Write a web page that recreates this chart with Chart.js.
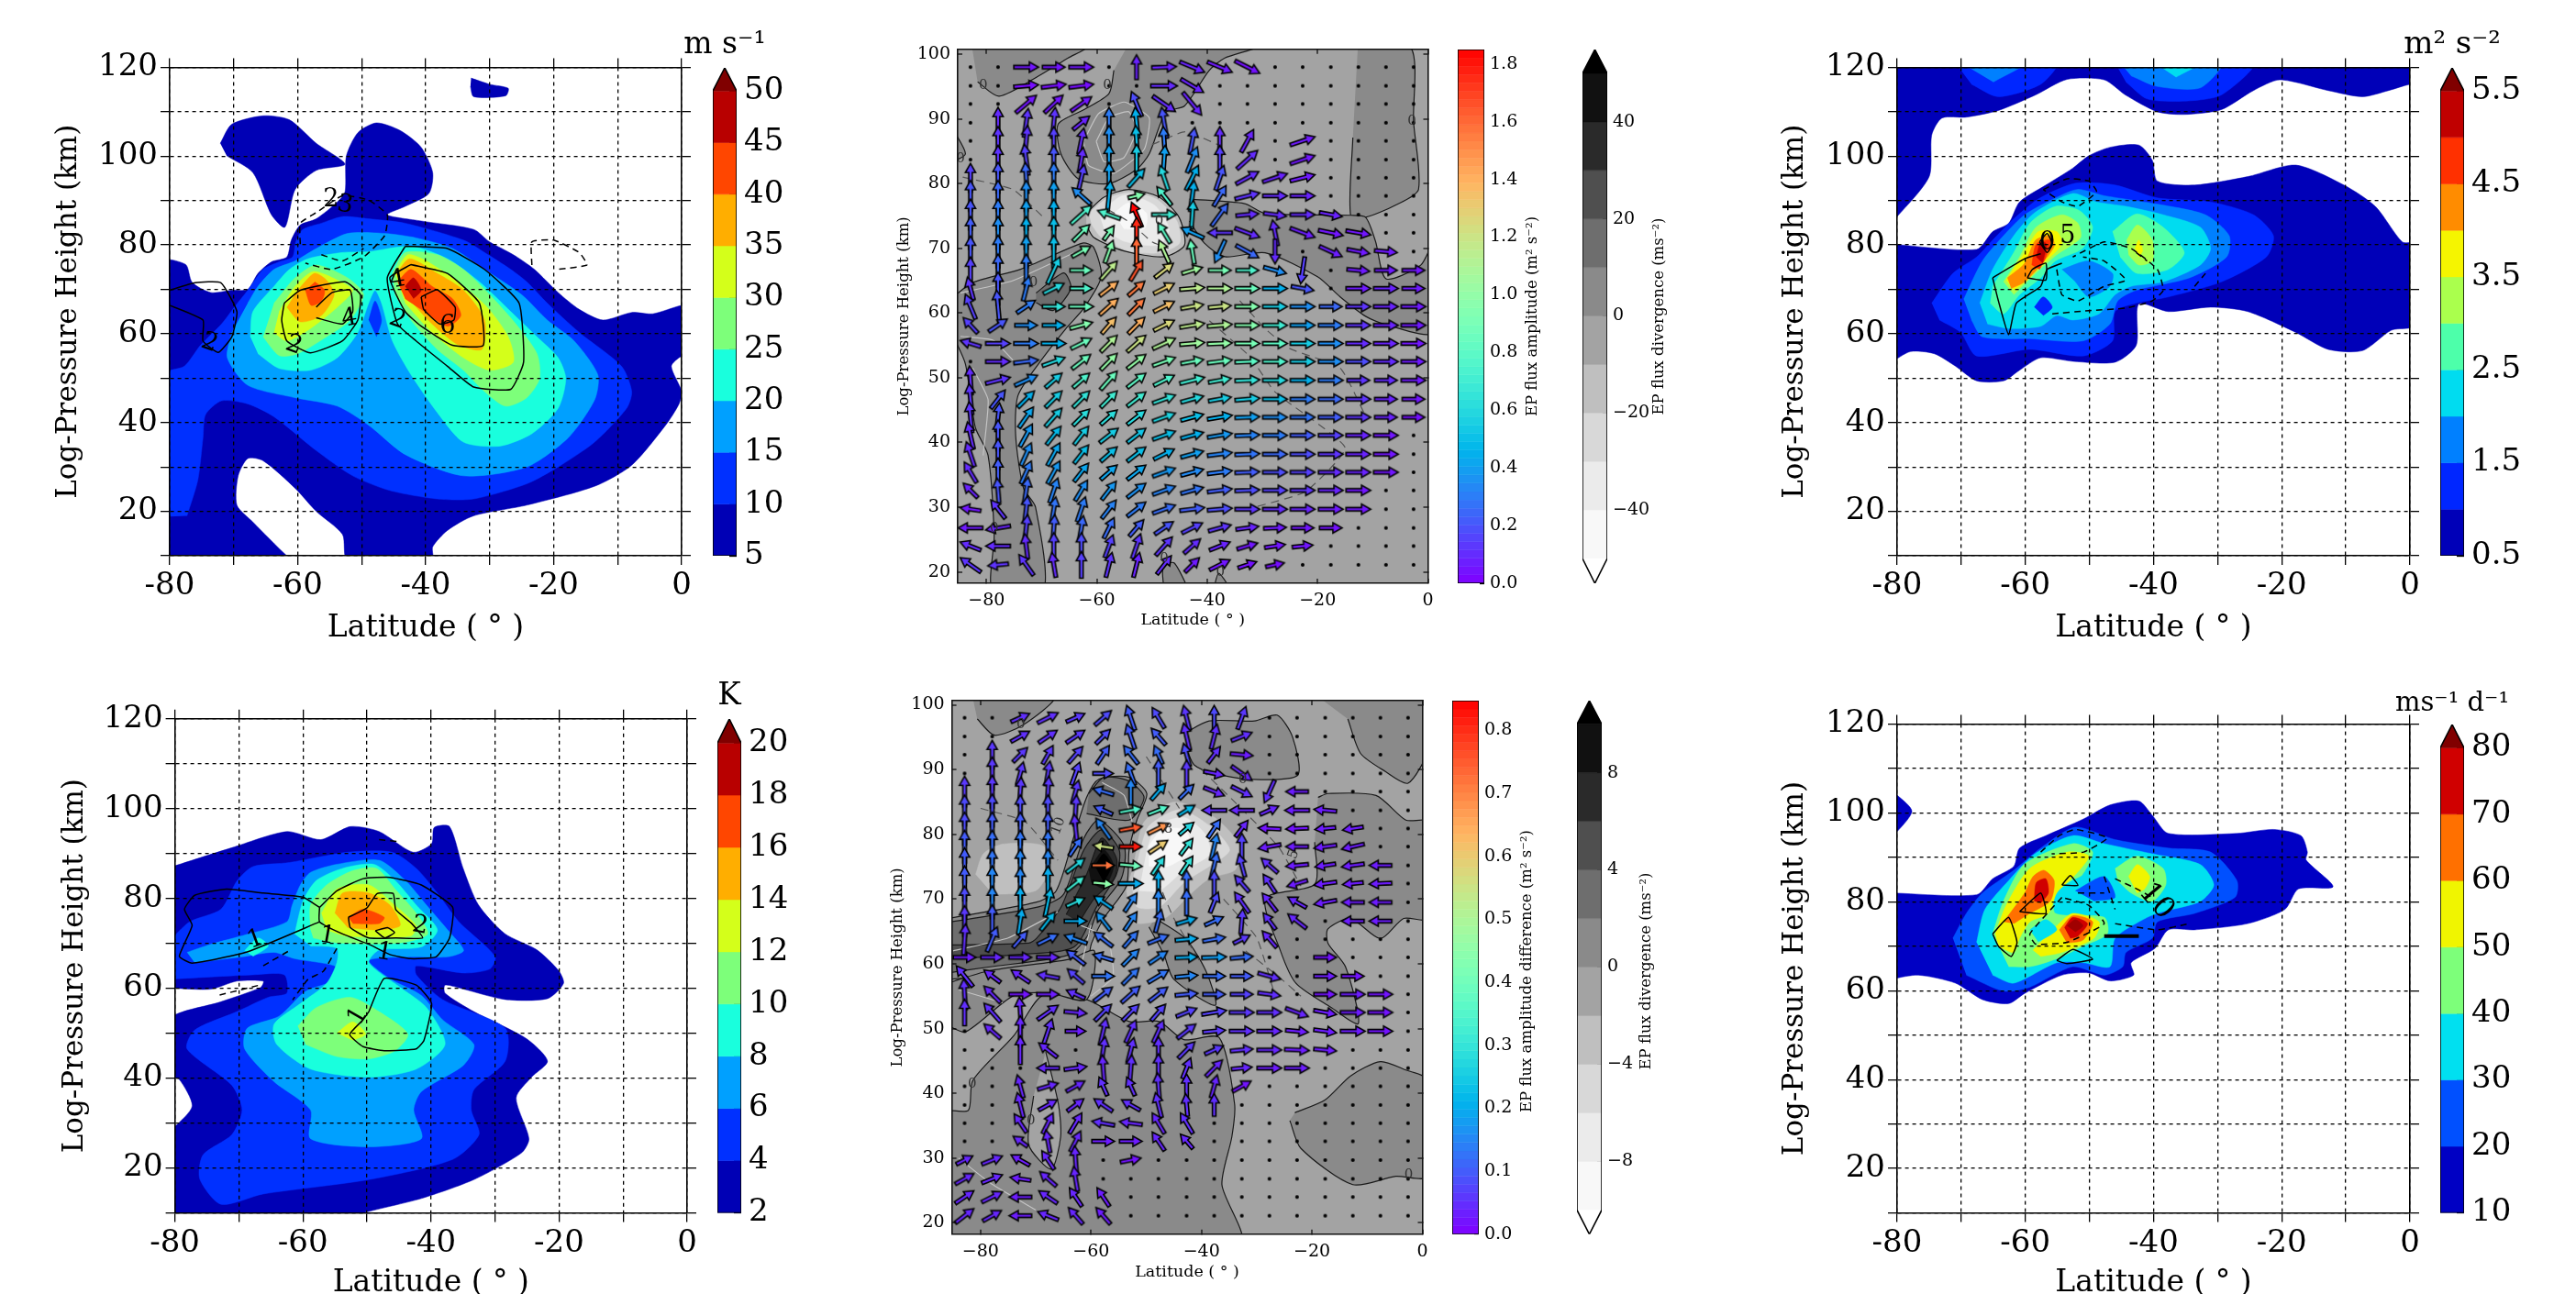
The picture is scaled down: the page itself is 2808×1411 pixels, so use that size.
<!DOCTYPE html>
<html><head><meta charset="utf-8">
<style>html,body{margin:0;padding:0;background:#fff;width:2808px;height:1411px;overflow:hidden}canvas{position:absolute;filter:blur(0.6px)}</style>
<script src="https://cdn.jsdelivr.net/npm/chart.js@4/dist/chart.umd.min.js"></script>
</head><body>
<script>
// ---------- axis data ----------
const bigXTicks=[-80,-70,-60,-50,-40,-30,-20,-10,0];
const bigXLabels=[-80,-60,-40,-20,0];
const bigYTicks=[10,20,30,40,50,60,70,80,90,100,110,120];
const bigYLabels=[20,40,60,80,100,120];
const midXTicks=[-80,-60,-40,-20,0];
const midYTicks=[20,30,40,50,60,70,80,90,100];
const gridLat=[-82.9,-77.9,-72.8,-67.8,-62.8,-57.8,-52.8,-47.8,-42.7,-37.7,-32.7,-27.7,-22.7,-17.6,-12.6,-7.6,-2.6];
const gridKm=[98,95.1,92.3,89.4,86.6,83.7,80.9,78.1,75.2,72.4,69.5,66.6,63.8,61,58.1,55.3,52.5,49.6,46.7,43.9,41.1,38.2,35.4,32.6,29.7,26.8,24,21.1];
// ---------- colour levels ----------
const levels1=[5,10,15,20,25,30,35,40,45,50];
const ticks1=[5,10,15,20,25,30,35,40,45,50];
const jet9=['#0000b5','#0030ff','#00a0ff','#19ffdd','#7dff7a','#d4ff1a','#ffae00','#ff4600','#b80000'];
const levels4=[2,4,6,8,10,12,14,16,18,20];
const ticks4=[2,4,6,8,10,12,14,16,18,20];
const levels3=[0.5,1,1.5,2,2.5,3,3.5,4,4.5,5,5.5];
const ticks3=[0.5,1.5,2.5,3.5,4.5,5.5];
const jet10=['#0000b8','#0026ff','#0080ff','#00dcf0','#4dffaa','#aaff4d','#f5f500','#ff8c00','#ff3000','#c00000'];
const levels6=[10,20,30,40,50,60,70,80];
const ticks6=[10,20,30,40,50,60,70,80];
const jet7=['#0000c4','#0050ff','#00e0f0','#7dff7a','#f0f500','#ff7000','#d00000'];
const overRed='#800000';
const levelsDiv2=[-50,-40,-30,-20,-10,0,10,20,30,40,50];
const ticksDiv2=[-40,-20,0,20,40];
const levelsDiv5=[-10,-8,-6,-4,-2,0,2,4,6,8,10];
const ticksDiv5=[-8,-4,0,4,8];
const greys=['#f8f8f8','#ebebeb','#d8d8d8','#bfbfbf','#a3a3a3','#8a8a8a','#6e6e6e','#4f4f4f','#2a2a2a','#111111'];
const ampTicks2=[0,0.2,0.4,0.6,0.8,1.0,1.2,1.4,1.6,1.8];
const ampTicks5=[0,0.1,0.2,0.3,0.4,0.5,0.6,0.7,0.8];

// ---------- panel 1: zonal wind ----------
const p1L5=[[[-81,9],[-81,76.2],[-77.5,75.6],[-76.5,71.6],[-73.6,69.3],[-70.3,69.8],[-67.8,70],[-66.2,73.6],[-64.1,76.2],[-61.7,77.3],[-61,81.1],[-59.6,84.5],[-57.1,85.9],[-53.8,89.7],[-52.6,92],[-52.4,100],[-50.6,105.3],[-47.7,107.5],[-44,105.8],[-40.7,102],[-38.9,96.3],[-39.5,91.6],[-43.2,88.7],[-46,86.8],[-40.7,85.4],[-32.5,83.5],[-30,80.7],[-26.3,77.8],[-23,74.5],[-19.3,69.3],[-16,65.5],[-12.3,63.1],[-7.8,64.8],[-4.5,64.5],[0,66.4],[1,66],[1,55],[0,55],[-1.6,52.7],[0,47],[-0.4,44.2],[-2.5,39.4],[-7.8,30.4],[-13.5,25.7],[-24.2,21.4],[-32.5,19],[-36.6,15.7],[-38.9,12],[-39,9],[-52.2,9],[-53,14.8],[-57.1,20],[-60.4,25.2],[-65.4,31.4],[-67.8,31.9],[-69.3,28],[-69.5,21.4],[-67,17.6],[-61.7,10],[-60.5,9]],
[[-72.1,102.9],[-70.3,107.2],[-65.4,109.1],[-61.3,108.2],[-57.1,102.9],[-52.6,98.2],[-57.1,96.8],[-60.4,92.5],[-62,84],[-64.1,86.8],[-67,96.3],[-71.1,100.1]],
[[-32.9,117.6],[-30,116.2],[-27.1,115.3],[-27.5,113.6],[-32.5,113.4],[-33,115.7]]];
const p1L10=[[[-81,18.8],[-81,50.8],[-77.7,52.7],[-75.2,57.4],[-71.9,62.2],[-69.9,66],[-67.8,69.8],[-65.4,74.5],[-62.9,76.2],[-60.8,77.3],[-60.3,80.7],[-59.2,83.5],[-56.3,84.9],[-53,86.4],[-48.9,85.9],[-43.2,84.9],[-34.1,81.1],[-30.8,78.3],[-26.7,74.5],[-24.2,71.7],[-21,66.9],[-16,60.3],[-9.4,52.7],[-7.8,47],[-8.6,43.2],[-13.6,35.6],[-19.3,30],[-24.2,26.2],[-32.5,22.8],[-38.2,22.8],[-45.6,24.7],[-51.4,28],[-57.1,33.7],[-63.7,41.3],[-67.8,44.2],[-71.9,44.9],[-74.4,41.8],[-74.8,36.6],[-75.6,27.1],[-77.3,19]]];
const p1L15=[[[-67.8,66.9],[-66.2,70.7],[-63.7,74.5],[-60.4,76.4],[-57.1,79.2],[-52.2,82.6],[-46.4,82.6],[-41.5,81.6],[-35.8,79.2],[-30.8,74.5],[-25,68.8],[-21,63.1],[-16.8,58.4],[-13.1,50.8],[-13.6,45.1],[-17.7,36.6],[-24.2,30],[-34.1,28],[-43.2,32.8],[-48.9,39.4],[-53.8,43.7],[-60.4,45.6],[-67.8,48.4],[-71,54.6],[-70.3,60.3]]];
const p1L20=[[[-67.4,59.3],[-67,65],[-63.7,70.7],[-61.3,74.5],[-58.4,76.9],[-53,78.3],[-48.9,78.5],[-42.3,79.7],[-36.6,76.9],[-31.6,71.7],[-26.7,65],[-22.6,59.3],[-19.3,54.6],[-18.1,49.9],[-19.3,43.2],[-23.4,37.5],[-28.4,34.7],[-34.1,35.6],[-38.2,42.3],[-42.3,50.8],[-45.2,58.4],[-46.9,66.9],[-47.9,69.8],[-48.9,66.9],[-50.6,60.3],[-53.8,54.6],[-58,51.8],[-62.9,52.2],[-66.2,55.5]]];
const p1L25=[[[-65.4,59.3],[-62.9,55.1],[-60,55.5],[-55.5,59.3],[-51.8,63.1],[-49.7,68.8],[-52.2,72.6],[-57.1,75.5],[-60.4,72.6],[-63.7,66.9]],
[[-45.2,73.6],[-43.2,78.3],[-38.2,77.8],[-34.1,74.5],[-30,68.8],[-25.9,62.2],[-22.6,55.5],[-22.2,49.9],[-24.2,45.6],[-27.5,43.7],[-30.8,47],[-34.1,51.8],[-38.2,56.5],[-42.3,63.1],[-44.8,68.8]]];
const p1L30=[[[-63.7,60.3],[-61.7,58.4],[-58,61.2],[-53.8,66],[-51.4,69.8],[-53.8,72.1],[-57.6,74],[-60.4,70.7],[-62.9,65]],
[[-44.8,73.6],[-42.8,77.8],[-39.9,76.4],[-35,71.7],[-30.4,66],[-27.1,59.3],[-26.3,53.6],[-30,51.8],[-34.1,54.6],[-39,60.3],[-43.2,66.9]]];
const p1L35=[[[-61.7,66],[-59.6,62.7],[-56.3,64.1],[-54.3,68.8],[-55.5,72.1],[-57.4,73.6],[-60,69.8]],
[[-44.6,73.6],[-42.5,76.9],[-38.2,73.6],[-34.1,69.8],[-30.8,63.1],[-31.2,56.5],[-34.9,57.5],[-39,62.2],[-43.2,68.8]]];
const p1L40=[[[-58.8,69.8],[-57.9,66.4],[-56.3,67.3],[-55.8,69.8],[-57.3,71.7]],
[[-44.4,71.7],[-42.3,74.5],[-39,70.7],[-35.8,67.9],[-34.5,64.1],[-36.6,61.7],[-40.7,65.5],[-43.2,67.9]]];
const p1L45=[[[-43.2,70.7],[-41.9,72.6],[-40.7,69.8],[-41.9,67.9]]];
const p1Spot=[[-48.9,63.1],[-47.9,67.4],[-46.9,63.1],[-47.7,59.3]];
const p1Solid=[
[[-43.2,79.7],[-36.6,79.2],[-30.8,74.5],[-25.4,66.9],[-24.7,53.6],[-26.7,47.5],[-32.5,48],[-36.6,52.7],[-41.5,58.4],[-44.4,62.2],[-46,72.6],[-43.2,79.7]],
[[-42.3,75.6],[-36.6,73.6],[-31.6,66.9],[-31,57.4],[-35.8,57.4],[-40.7,61.7],[-43.2,65],[-45.6,72.6],[-42.3,75.6]],
[[-40.7,68.3],[-38.2,69.9],[-35.4,66],[-35.6,63.1],[-37.8,62.2],[-40.3,65.5],[-40.7,68.3]],
[[-62.1,66.9],[-59.6,69.8],[-52.6,71.7],[-50.2,68.8],[-50.6,63.1],[-53,58.4],[-58,55.7],[-61.7,58.4],[-62.5,63.1],[-62.1,66.9]],
[[-57.1,66],[-54.6,69.3],[-51.8,69.8],[-51.4,65],[-53,62.2],[-57.1,63.6]],
[[-80,69.8],[-76,71.5],[-72,71.5],[-69.5,65],[-70.3,59.3],[-72.4,55.8],[-74.8,58.4],[-74.8,63.1],[-80,66.4]]];
const p1Dashed=[
[[-59.6,80.2],[-59.6,84.9],[-57.1,87.3],[-53,91.1],[-48.9,90.1],[-46,86.8],[-46.4,82.1],[-49.7,77.3],[-54.7,74.5],[-58.8,75.9]],
[[-56.3,77.8],[-53,76.4],[-49.7,79.2]],
[[-23.4,75.5],[-23.4,80.7],[-20,81.1],[-16,78.3],[-14.8,75.5],[-19.3,74.5]]];
const p1Text=[[-73.8,57.9,'2',20],[-60.6,57.4,'2',20],[-44.4,63.1,'2',20],[-51.9,63.4,'4',-10],[-44.4,72.1,'4',-10],[-36.6,61.7,'6',0],[-54.8,90.1,'2',0],[-52.6,89,'3',10]];

// ---------- panel 3: kinetic energy ----------
const p3L05=[[[-81,121],[1,121],[1,116],[0,116.2],[-3.3,114.8],[-7.4,113.4],[-12.8,114.8],[-20.3,117.2],[-24.4,114.8],[-29.4,110.5],[-35.2,109.4],[-39.4,110],[-44.4,113.8],[-47.7,117.2],[-53.5,117.3],[-58.4,113.8],[-64.2,110.3],[-69.2,108.8],[-73,108.6],[-74.6,104.8],[-75,95.4],[-80,86.4],[-81,85.5]],
[[-81,80.2],[-67.6,79],[-65.1,83],[-62.6,84.9],[-60.9,89.7],[-56.8,93.5],[-52.6,97.3],[-50.1,100.1],[-46.8,102],[-42.3,102.5],[-40.2,99.1],[-39.4,94.4],[-33.6,93.5],[-25.3,95.4],[-17.8,98],[-10.3,93.5],[-5.4,88.7],[-1.2,80.7],[1,80.2],[1,62],[-2.9,60.8],[-7.4,56.2],[-12.8,56.5],[-17.8,60.3],[-25.3,65],[-31.1,66],[-37.7,65],[-42.3,66.7],[-42.7,57.4],[-46,53.6],[-52.6,53.8],[-57.6,54.6],[-60.9,51.8],[-63.4,49.4],[-67.6,49.4],[-70.9,52.7],[-74.2,55.5],[-77.9,56],[-81,53.5]]];
const p3L10=[[[-74.6,66.9],[-71.3,73.6],[-67.6,77.3],[-65.1,81.1],[-61.8,85.9],[-57.7,90.6],[-52.2,93.9],[-46,93.5],[-39.4,90.6],[-31.1,89.7],[-24.4,86.8],[-21.3,82.1],[-22.4,77.3],[-29.4,71.7],[-37.7,68.3],[-42.7,66.9],[-46,65],[-46.4,58.4],[-51,55],[-59.3,56.5],[-67.6,55],[-70.1,60.3],[-73.4,63.1]],
[[-70.9,121],[-55.1,121],[-57.6,116.2],[-64.2,113.4],[-68.4,116.2]],
[[-46,121],[-24.4,121],[-29.4,113.8],[-35.2,112.4],[-41,112.9],[-44.3,116.7]]];
const p3L15=[[[-69.6,67.8],[-66.7,76.4],[-63.4,82.1],[-60.1,86.8],[-56,90.1],[-51.9,92.5],[-47.7,91.1],[-39.4,89.2],[-31.9,86.8],[-28.2,82.1],[-28.6,77.3],[-34.4,72.6],[-42.7,69.8],[-45.6,67.4],[-46.8,62.2],[-51,58.4],[-59.3,58.9],[-66.7,59.3],[-68.4,63.1]],
[[-70,121],[-60,121],[-65,116.7]],
[[-45.2,121],[-29.4,121],[-32.7,115.4],[-39.4,115.7],[-43.5,118.1]]];
const p3L20=[[[-67.1,66.9],[-65.1,74.5],[-61.8,82.1],[-58.5,87.3],[-52.6,91.6],[-48.9,89.7],[-44.3,88.7],[-38.5,86.8],[-32.7,84],[-31.1,79.2],[-32.7,75.5],[-38.5,71.7],[-43.5,70.7],[-46,68.8],[-48.5,64.5],[-52.6,63.1],[-55.1,64.1],[-57.6,61.7],[-62.6,61.2],[-65.9,62.2]],
[[-39.8,121],[-32.7,121],[-36.5,117.8]]];
const p3L25=[[[-65.1,70.7],[-61.8,78.3],[-59.3,84.9],[-55.3,88.7],[-51.6,87.8],[-49.5,84],[-51.1,79.2],[-55.3,76.4],[-57.6,72.6],[-60.9,68.8],[-63.4,64.5],[-65.5,66.9]],
[[-46.4,83],[-42.6,87],[-38.5,84],[-35.2,78.3],[-37.7,74.5],[-42.6,73.6],[-45.2,77.3]]];
const p3L30=[[[-63.4,71.7],[-60.9,77.3],[-58.4,83.9],[-54.3,86.8],[-51.8,84.9],[-51.4,81.6],[-55.1,77.8],[-58.4,73.6],[-61.8,68.8]],
[[-44.2,81.1],[-42.5,84.5],[-40.2,81.1],[-40.2,76.4],[-42.3,75.5],[-43.9,77.8]]];
const p3L35=[[[-63,72.1],[-60.1,78.3],[-58,83],[-55.1,83],[-54.3,80.2],[-56.8,76.4],[-60.1,71.7],[-61.8,69.8]],
[[-42.9,79.2],[-42.3,81.1],[-41.7,78.8],[-42.3,77.3]]];
const p3L40=[[[-62.8,72.6],[-60.1,75.9],[-58.4,81.1],[-56,82.1],[-55.5,79.7],[-57.6,75.5],[-60.1,71.7],[-62.2,70.2]]];
const p3L45=[[[-59,75.5],[-58.3,80.2],[-56.1,81.1],[-56.8,77.3],[-57.8,74.5]]];
const p3L50=[[[-58.3,77.3],[-57.6,80.7],[-56.7,80.2],[-57.3,75.9]]];
const p3Hole15=[[-54.3,74.5],[-50.1,76.4],[-46.4,73.6],[-46.8,70.7],[-50.1,68.3],[-52.2,71.7]];
const p3Hole10=[[-58.6,66],[-57.2,68.3],[-55.8,66],[-57.2,64.1]];
const p3Solid=[[[-65.1,72.6],[-64.2,67.4],[-62.6,59.8],[-61.4,66.9],[-57.6,70.7],[-56.6,74.5],[-54.3,75.9]],
[[-65.1,72.6],[-60.1,76.9],[-57.6,78]],
[[-59.7,72.6],[-58.9,74.5],[-56.8,75.9],[-56.8,72.1],[-59.7,72.6]],
[[-57.8,80.7],[-56.6,82.6],[-55.8,80.2],[-56.6,78.3],[-57.8,80.7]]];
const p3Dashed=[[[-57.2,92.5],[-53.5,94.9],[-50.1,94.4],[-48.9,92],[-51.8,88.7],[-54.3,89.7],[-57.2,92.5]],
[[-55.8,64.5],[-50.1,65.2],[-44.3,65.8],[-40.2,67.4],[-38.5,69.8],[-39.4,74.5],[-43.5,79.2],[-47.7,80.7],[-52.6,77.3]],
[[-55.1,74.5],[-54.3,68.8],[-51.8,67.4],[-47.7,70.7],[-44.3,72.1],[-47.7,76.4],[-51,77.3]],
[[-33.6,70.7],[-31.9,73.6]],[[-42.7,78.3],[-41,76.4]]];
const p3Text=[[-56.6,80.4,'0',0],[-53.4,81.9,'5',0]];

// ---------- panel 4: temperature ----------
const p4L2=[[[-81,86.8],[-71.1,91.3],[-62.5,94.9],[-57.2,93.1],[-52.6,96],[-48.1,94.9],[-42.8,90.3],[-39.9,92.2],[-39.5,95.8],[-37.1,96],[-35,86.8],[-32.6,78.6],[-28.5,72.2],[-23.5,68.6],[-20.1,64],[-19.3,61.1],[-21.8,57.7],[-28.4,57.5],[-34.9,59.8],[-37.8,60.7],[-37.8,58.9],[-33.3,54.8],[-25.1,48.8],[-21.8,43.8],[-24.3,40.2],[-26.7,35.6],[-24.7,26.5],[-25.9,23.3],[-33.3,17.4],[-41.5,13.2],[-50.5,10],[-52,9],[-81,9],[-81,28.8],[-80,29.2],[-77.3,33.8],[-79.3,39.7],[-81,40.6],[-81,53],[-72.8,57],[-66.6,60.2],[-66.2,61.6],[-70.3,61.6],[-74.4,59.8],[-81,60.1]]];
const p4L4=[[[-81,70.3],[-77.7,74.8],[-72.8,77.6],[-70.3,83.9],[-67.8,87.1],[-62.1,88],[-53,90.3],[-46.1,90.3],[-42.3,86.7],[-39,81.2],[-35.7,74.9],[-30,67.1],[-30.8,64.3],[-34.9,63.4],[-42.3,65],[-42.3,63],[-38.2,57.5],[-28.4,51.1],[-28.4,43.8],[-33.3,37.4],[-33.7,32.8],[-32.5,27.4],[-36.6,21.9],[-49.7,17.4],[-66.2,14.2],[-72.8,11.9],[-76.1,17.5],[-75.6,22.9],[-71.1,27.4],[-69.5,32.9],[-71.1,38.4],[-78.1,46.5],[-76.9,50.7],[-70.3,54.8],[-65.4,58],[-62.5,58.9],[-62.9,63],[-67.8,63],[-81,62]]];
const p4L6=[[[-78.1,68],[-74.4,69.8],[-68.7,72],[-62.5,74.8],[-61.7,78.4],[-60.4,83],[-58.8,85.8],[-54.7,87.6],[-48.1,88.5],[-44,84],[-40.7,78.5],[-37.4,73],[-34.9,68.4],[-37.4,67],[-43.2,67],[-49.7,66.2],[-46.4,62.1],[-41.5,58.4],[-38.2,53],[-33.3,47.5],[-34.9,42.9],[-41.5,37],[-42.7,32.9],[-41.5,26.5],[-49.7,24.7],[-58.8,26.5],[-58.8,32.9],[-64.5,39.2],[-69.1,46.5],[-68.7,51.1],[-63.7,53.8],[-59.6,59.3],[-54.7,62],[-54.7,64.8],[-61.3,66.6],[-64.5,68],[-69.5,67],[-76.9,65.7]]];
const p4L8=[[[-61.3,72.1],[-60,79.4],[-57.9,84],[-53.8,86.7],[-48.9,87.6],[-45.6,84],[-42.3,78.5],[-39,73],[-41.5,69.2],[-48.1,68.5],[-49.7,65.7],[-44.8,60.2],[-40.7,55.7],[-37.8,47.5],[-42.3,42],[-49.7,40.2],[-58.8,42],[-64.1,47.5],[-64.5,52],[-60.4,56.6],[-56.3,61.1],[-54.7,65.7],[-54.7,68.9],[-58.8,69.4]],
[[-69.1,68.4],[-67,71.2],[-65.4,69.4],[-67.8,67.1]]];
const p4L10=[[[-58.8,73],[-58.8,78.5],[-56.3,83],[-52.2,86.2],[-48.5,86.7],[-45.6,82.1],[-42.3,76.7],[-40.5,72.1],[-44.8,70.1],[-54.7,70.1],[-58.4,71.2]],
[[-60.8,51.6],[-57.9,55.7],[-52.6,58],[-48.1,54.8],[-43.6,49.8],[-45.6,46.1],[-49.7,44.3],[-54.7,44.8],[-59.6,47.5]]];
const p4L12=[[[-57.1,76.7],[-54.7,82.1],[-49.7,83],[-46.4,79.4],[-42.3,73.9],[-43.2,71.6],[-53,71.6],[-56.3,73]],
[[-54.7,50],[-52.2,52.5],[-50.2,49.8],[-52.2,48.4]]];
const p4L14=[[[-55,76.7],[-53.8,81.2],[-49.7,81.2],[-46.4,78.5],[-44.8,74],[-48.1,73],[-53,73.5]]];
const p4L16=[[[-52.9,75.8],[-50.6,77.6],[-47.3,75.8],[-48.1,74.4],[-52.2,74.4]]];
const p4Solid=[
[[-57.4,78],[-54.7,81.7],[-50.6,84.4],[-46.4,84.7],[-41.5,83],[-36.6,78],[-37.1,71.2],[-39.2,67],[-43.2,66.6],[-46.4,67.5],[-49.7,69.8],[-53.8,72.1],[-57.4,74.8],[-57.4,78]],
[[-57.4,78],[-60,80.3],[-66.2,81.2],[-71.9,82.1],[-76.9,80.7],[-78.5,77.6],[-77.3,74],[-79.3,67.1],[-77.3,65.6],[-68.7,68.1],[-57.4,74.8]],
[[-52.9,75.8],[-50,77.9],[-48.4,81.1],[-45.9,81.1],[-45.5,77.5],[-43,74.4],[-41.3,71.2],[-45.5,71.2],[-49.7,71.2],[-52.6,73.5],[-52.9,75.8]],
[[-48.7,72.8],[-46.8,73.5],[-45.7,72.4],[-47.2,71.2],[-48.7,72.8]],
[[-49.7,54.8],[-47.3,62.2],[-42.3,60.7],[-39.9,56.6],[-41.1,48.4],[-42.3,46.5],[-47.3,46.1],[-50.6,47],[-52.7,49.7],[-50.6,53],[-49.7,54.8]]];
const p4Dashed=[[[-48.1,93.1],[-44.8,92.6]],[[-66.2,65],[-62.1,68.4]],[[-54.7,68.9],[-56.8,63.8],[-59.2,62],[-61.6,57.4]],[[-73,58.5],[-66.5,60.8]]];
const p4Text=[[-67.4,70.8,'1',-20],[-56.2,71.6,'1',10],[-47.3,67.9,'1',10],[-51.4,53.8,'1',-60],[-41.7,73.9,'2',10]];

// ---------- panel 6: wave forcing ----------
const p6L10=[[[-81,82],[-67.6,81.6],[-65.1,85.2],[-61.8,88],[-60.9,92.1],[-56.8,94.9],[-51,98.6],[-46.8,101.8],[-42.3,102.7],[-40.2,99.5],[-37.7,95.4],[-27,95.4],[-21.3,96.3],[-17,94.9],[-16,91.2],[-16.2,89.4],[-12,83.4],[-17.4,82.9],[-19.5,78.3],[-25.3,75.1],[-33.6,73.7],[-37.7,73.7],[-39.8,69.5],[-43.5,66.3],[-43.1,63.5],[-46.8,62.2],[-50.1,64],[-54.3,63.5],[-60.1,59.4],[-62.6,57.1],[-66.7,58],[-70.9,61.7],[-76.7,63.5],[-81,62.6]],
[[-81,104.5],[-80,104],[-77.7,100.4],[-80,95.8],[-81,95]]];
const p6L20=[[[-71.3,71.8],[-69.2,77.4],[-66.7,82],[-61.8,87.1],[-57.6,92.1],[-52.2,96.8],[-46,94],[-37.7,92.1],[-31.1,91.2],[-27,84.8],[-27.3,81],[-33.6,77.4],[-39.4,75.5],[-40.2,71.8],[-44.3,68.6],[-44.8,65.4],[-47.7,63.5],[-52.6,65.4],[-59.3,60.8],[-63.4,59.9],[-69.2,63.5]]];
const p6L30=[[[-67.6,70.9],[-66.3,78.3],[-62.6,84.8],[-58.5,90.8],[-52.6,94.9],[-47.7,93.1],[-40.2,90.8],[-32.7,88.4],[-30.6,83.8],[-32.7,80.1],[-38.5,77.8],[-41,76.5],[-46,71.8],[-46.8,65.4],[-50.9,66.3],[-55.1,66.3],[-61.8,61.7],[-65.1,63.5]]];
const p6L40=[[[-65.1,72.8],[-63.4,80.2],[-60.1,88.5],[-52.6,93.1],[-49.5,91.2],[-51.1,86.1],[-52.8,84.8],[-55.3,82],[-55.3,77.4],[-47.7,76.5],[-47.2,72.8],[-51,70],[-55.1,67.2],[-59.3,65.4],[-62.6,65.4]],
[[-46,87.5],[-42.6,90.3],[-38.5,87.5],[-38.1,83.8],[-40.2,80.1],[-43.5,82],[-45.6,84.8]]];
const p6L50=[[[-64.7,72.8],[-63,79.2],[-59.3,87.5],[-53.4,91.2],[-50.1,90.3],[-52.2,86.1],[-55.1,82],[-56.4,77.4],[-59.3,75.5],[-60.9,71.8],[-61.8,68.6],[-64.2,70]],
[[-58.8,69.1],[-55.1,74.6],[-52.6,77.4],[-48.5,75.5],[-49.3,71.8],[-54.3,68.6],[-57.6,67.7]],
[[-43.9,85.7],[-42.5,88.4],[-40.6,85.7],[-41.4,82.9],[-42.6,82]]];
const p6L60=[[[-63.4,75.5],[-60.1,82],[-58.8,85.7],[-57.1,87.1],[-55.5,84.8],[-56.1,80.2],[-59.3,77.4],[-61.8,75.1]],
[[-54.7,73.7],[-52.6,76.9],[-49.5,75.5],[-51,71.4],[-53.5,70.7]]];
const p6L70=[[[-58.6,80.2],[-58.3,84.3],[-56.8,85.2],[-56.4,82],[-57.6,79.7]],
[[-53.9,74.2],[-52.6,76.5],[-50.3,75.1],[-51.8,72.3],[-53,71.8]]];
const p6Core=[[-53.5,74.6],[-52.2,76],[-51,74.6],[-52.2,73.2]];
const p6Hole20=[[-52.2,82.5],[-47.7,85.7],[-46,81],[-49.3,80.2]];
const p6Hole30=[[-59.3,73.7],[-56.8,76],[-55.1,73.7],[-58,71]];
const p6Solid=[[[-54.3,83.8],[-53,85.9],[-51.8,83.7],[-54.3,83.8]],
[[-60.9,77.8],[-57.6,82],[-56.8,77.4],[-60.9,77.8]],
[[-65.1,72.8],[-62.6,76.5],[-61.3,70.9],[-62.2,67.7],[-64.2,70],[-65.1,72.8]],
[[-55.1,66.8],[-52.6,69.3],[-49.5,67.1],[-53.5,66.1],[-55.1,66.8]]];
const p6Dashed=[[[-57.6,91.2],[-54.7,94.9],[-52.2,96.3],[-47.2,94.4],[-50.9,91.2],[-55.9,90.8]],
[[-54.3,81],[-59.3,72.8],[-58.4,70.5],[-53.5,70.9],[-47.7,75.1],[-50.1,79.2],[-54.3,81]],
[[-51.8,82],[-47.7,82]],[[-46,85.2],[-42.6,82.9],[-40.2,81]],[[-46,75.1],[-39.4,73.7],[-34.4,75.1]],[[-47.7,85.7],[-46,78.3]]];
const p6Thick=[[[-47.7,72.3],[-42.3,72.3]]];
const p6Text=[[-39.6,80.1,'10',50]];

// ---------- panel 2: EP flux divergence contours ----------
const p2Base=[[-86,18],[1,18],[1,101],[-86,101]];
const p2Pos0=[
[[-82.6,101],[-62,101],[-65.2,99.4],[-70.6,96.6],[-77.7,93.5],[-81.6,95.7]],
[[-54.6,101],[-31.4,101],[-36.8,99.4],[-39.6,97.5],[-44.1,92],[-47.5,91],[-50.5,84.6],[-52.8,82.2],[-57.8,80],[-63.3,80.7],[-66.5,84.6],[-67,89.2],[-62.4,91.4],[-57.8,93.9],[-56.9,97.5]],
[[-12.7,101],[-3.1,101],[-2.6,89.6],[-1.7,79.1],[-5.8,76.7],[-11.3,74.8],[-14,75.1],[-13.6,87.1]],
[[-43.2,77.6],[-33.2,76.9],[-29.5,75.4],[-14,75.1],[-11.3,74.8],[-9.5,71.1],[-7.6,65.3],[-1.3,67.4],[1,70.8],[1,57],[-7.6,58.2],[-11.3,59.5],[-15.9,62.5],[-20,65.6],[-29.5,69.3],[-36.8,68.7],[-40.5,70.8],[-43.2,74.2]],
[[-86,62.5],[-82.5,64.7],[-73.7,66.8],[-62.6,70.8],[-60.6,70.2],[-59.2,65.6],[-62.4,60.7],[-65.6,57.6],[-70.6,52.1],[-74.3,47.2],[-74.7,41],[-73.3,33],[-71.1,30],[-69.7,17],[-78.8,17],[-78.6,25.7],[-79.7,38],[-82,42.3],[-83.8,52.1],[-86,56.4]],
[[-47.8,17],[-48,20.8],[-46,21.4],[-43.2,17]],
[[-38.9,17],[-37.9,19.8],[-35.5,17]],
[[-86,88.3],[-83.8,84.6],[-86,83.4]]];
const p2Pos10=[[[-71,63.1],[-66,66.2],[-64.7,63.8],[-67.9,60.4],[-71,61.6]]];
const p2Neg10=[[[-61.9,75.4],[-58.7,77.9],[-54.2,79.1],[-48.7,77.9],[-45.1,74.8],[-44.1,70.5],[-47.8,68.7],[-55.1,69.6],[-60.6,71.7],[-61.9,73.6]]];
const p2Neg20=[[[-61.5,75.4],[-58.3,77.6],[-54.2,78.6],[-49.2,77.6],[-45.5,74.2],[-45,70.8],[-48.7,69.3],[-54.2,69.6],[-59.2,71.7],[-60.9,73.6]]];
const p2Neg30=[[[-59.6,75.4],[-55.1,78.2],[-49.6,76.7],[-46.9,73],[-48.7,70.5],[-55.1,71.1],[-58.7,73]]];
const p2Neg40=[[[-56.9,75.4],[-54.2,77],[-51,75.4],[-51.4,73],[-55.1,73]]];
const p2Light=[[[-62.4,86.5],[-59.7,90.8],[-55,92.6],[-50.5,90.2],[-51.4,85.3],[-56.9,81.6],[-61.5,82.8],[-62.4,86.5]],
[[-60.1,86.5],[-57.8,90.2],[-54.2,91.1],[-52.8,88.3],[-55.1,84],[-58.7,83.4],[-60.1,86.5]],
[[-84.7,63.1],[-75.2,65],[-64.2,69.3]],[[-84.7,56.4],[-78.8,55.8],[-75.2,52.7]],[[-82.5,51.5],[-79.7,46.6],[-80.6,38]]];
const p2Dash=[[[-34.1,61.9],[-29.5,57.6],[-25,54.5],[-15.9,51.5],[-11.3,44.1]],
[[-39.6,58.8],[-32.3,53.3],[-27.7,47.8],[-15,39.2],[-22.2,32.4],[-31.4,30]],
[[-84.3,81],[-75.2,79.1],[-69.7,74.8]],[[-58,76],[-54,74],[-50,71],[-47,70]],[[-50,86],[-44,88],[-38,86]]];
const p2Text=[[-80.6,95.1,'0',0],[-58.1,95.2,'0',0],[-2.9,89.6,'0',0],[-84.7,83.9,'0',0],[-48.7,74.2,'0',0],[-71.5,64.7,'0',0],[-78.6,26.7,'0',0],[-47.8,22.1,'0',0],[-37.6,20,'0',0]];

// ---------- panel 5: EP flux divergence difference contours ----------
const p5Base=[[-86,18],[1,18],[1,101],[-86,101]];
const p5Pos0=[
[[-81.4,101],[-66.8,101],[-72.3,96.9],[-77.5,95.3],[-80.6,97.8]],
[[-43.1,95.6],[-38.6,97.5],[-30.4,97.5],[-26.3,98.4],[-23.5,95],[-22.6,89.1],[-31.3,88.5],[-37.7,89.4],[-41.3,90.7],[-42.7,93.1]],
[[-18.5,101],[1,101],[1,93],[-2.6,87.9],[-6.7,89.7],[-11.2,92.5],[-13.5,97.8]],
[[-18.9,85.7],[-17.1,86.3],[-8.4,86],[-3,82.2],[1,81.9],[1,67],[-3.4,67],[-7.6,63.9],[-13,67],[-17.1,65.4],[-17.1,63.2],[-13.9,59.5],[-11.6,50.8],[-16.6,53.3],[-22.9,57],[-25.7,62],[-28.4,70.1],[-19.5,72.3],[-19.5,78.8]],
[[-86,37.4],[-82.2,37.4],[-81.4,42],[-74,48.9],[-68.8,55.1],[-60.8,54.5],[-53.1,51.1],[-47.7,51.1],[-43.2,48.3],[-36.8,48.6],[-34,38.3],[-34.5,33.3],[-36.3,25.9],[-33.1,17],[-86,17]],
[[-24,35.8],[-22,31.5],[-12.6,25.9],[-4.8,27.2],[1,27.2],[1,42],[-3,43.6],[-7.6,44.9],[-13,42.7],[-17.6,39],[-23.1,37]],
[[-49.5,65.7],[-46.8,61.4],[-45,57.6],[-37.5,53.6],[-39.2,58.9],[-42.9,63.9],[-48.3,67]],
[[-86,67],[-70,69.5],[-66.3,71.3],[-63.2,79.4],[-60.8,85.7],[-58.6,88.5],[-53.1,88.8],[-49.9,86.3],[-51.7,82.2],[-53.1,77.6],[-53.6,72],[-57.7,67],[-59.9,63.2],[-61.3,59.5],[-86,57.6]],
[[-86,57],[-78.6,58.9],[-64,60.7],[-59.4,62],[-60.8,54.5],[-67.7,55.5],[-74,55.1],[-82.7,49.5],[-86,50.5]]];
const p5Lens=[[-68.2,46.4],[-65.9,38.3],[-65.5,33.3],[-67.2,28.3],[-71.3,32.1],[-70.4,39.6]];
const p5Pos2=[[[-86,66.4],[-69.5,68.8],[-65,70.7],[-61.3,79.4],[-58.6,82.2],[-54,78.2],[-54.5,73.2],[-58.8,68.2],[-60.5,64.5],[-64,61.4],[-78.6,59.5],[-86,58.6]],
[[-60.4,86.3],[-57.7,88.8],[-53.1,88.2],[-50.4,85.7],[-53.1,82.2],[-60.8,83.2]]];
const p5Pos4=[[[-86,62.9],[-71.3,63.2],[-69.9,63.9],[-65.4,68.8],[-61.3,77.6],[-58.1,80.7],[-54.9,77.6],[-55.4,73.8],[-59,68.8],[-63.1,62.6],[-74,61.4],[-86,60.7]]];
const p5Pos6=[[[-64.5,67.6],[-60.8,73.8],[-58.1,79.4],[-55.4,76.3],[-55.8,73.2],[-59.4,70.1],[-62.2,66.4]]];
const p5Pos8=[[[-60.4,74.5],[-57.7,77.6],[-55.9,75.1],[-57.7,71.7],[-60,72.6]]];
const p5Over=[[-59.3,75.1],[-57.7,77],[-56.3,75.1],[-57.7,72.6]];
const p5Neg2=[[[-80.9,73.8],[-79.5,77],[-75.9,78.5],[-68.6,78.2],[-67.7,74.5],[-70,71.3],[-77.7,70.7]],
[[-52.2,75.7],[-50.4,81.9],[-44.9,85],[-37.6,82.6],[-33,78.2],[-33.9,74.5],[-38.5,73.2],[-42.1,70.7],[-46.7,67],[-52.2,66.4],[-53.6,71.3]]];
const p5Neg4=[[[-51.3,76.9],[-49.5,81.3],[-44,83.8],[-38.5,81.3],[-34.9,77.6],[-38.5,75.1],[-43.1,72.6],[-47.6,68.8],[-51.7,68.8],[-52.6,72.6]]];
const p5Neg6=[[[-49.9,77.6],[-48.1,81.3],[-43.1,82.6],[-39.4,80.1],[-38.5,76.9],[-43.1,74.5],[-47.6,71.3],[-51.3,71.3]]];
const p5Neg8=[[[-49.5,78.2],[-47.2,80.7],[-43.1,80.7],[-41.8,77.6],[-45.9,75.1],[-49.5,75.1]]];
const p5Light=[[[-85,62],[-75,64],[-66,68]],[[-62,66],[-57,64],[-56,58],[-60,55]],[[-84,30],[-78,26],[-70,22]],[[-58,88],[-54,86],[-52,80]],[[-60,66],[-62,59]],[[-84,56],[-76,54]]];
const p5Dash=[[[-80,84],[-72,82],[-66,76]],[[-32,62],[-26,58],[-22,55]],[[-40,90],[-34,85],[-26,78],[-22,72]],[[-36,70],[-30,64],[-27,56]],[[-50,92],[-47,88],[-44,84]],[[-48,73],[-45,67],[-40,60]]];
const p5Text=[[-72.7,96.9,'0',0],[-32.5,88.5,'0',0],[-81.5,41.4,'0',0],[-70.9,35.8,'0',0],[-2.5,27.4,'0',0],[-65.9,81.3,'10',-70],[-46,80.8,'8',0],[-23.3,76.9,'5',-70]];

// ---------- EP flux vectors: u, v (arrow components), amplitude, west to east ----------
const epTop=[
[0,0,0,0,0,0,24,0,.05,22,0,.05,24,0,.05,0,0,0,0,24,.08,24,1,.08,24,-10,.08,24,-10,.06,24,-12,.04],
[0,0,0,0,0,0,24,2,.03,24,3,.03,24,3,.03,0,0,0,0,0,0,26,0,.1,22,-13,.08],
[0,0,0,0,0,0,20,17,.05,18,17,.05,20,14,.05,0,0,0,-10,24,.18,22,-15,.1,18,-22,.08],
[0,0,0,0,30,.1,4,28,.12,3,30,.12,16,13,.08,0,30,.3,-3,30,.45,-5,30,.2],
[0,0,0,0,28,.12,3,30,.12,0,28,.15,5,25,.1,0,30,.35,-2,30,.5,-2,28,.3,5,26,.2,0,28,.1,12,22,.08,0,0,0,24,8,.06],
[0,0,0,0,28,.12,-4,30,.15,0,28,.2,4,24,.1,0,30,.4,0,30,.55,2,28,.4,10,25,.35,0,28,.15,20,18,.1,0,0,0,24,8,.05],
[0,28,.15,0,30,.2,-2,30,.25,0,30,.3,6,26,.15,0,30,.4,16,18,.5,-8,24,.6,12,24,.45,8,24,.2,22,12,.1,24,8,.08,24,6,.06],
[0,30,.2,0,30,.25,0,30,.35,0,30,.4,-18,16,.35,3,30,.45,16,4,.95,-14,18,.75,4,30,.45,12,20,.25,24,6,.12,24,0,.1,24,0,.08],
[0,30,.2,0,30,.3,0,30,.4,0,30,.45,20,18,.75,-22,8,.75,-10,24,1.85,24,0,.7,2,28,.55,16,22,.25,22,2,.1,22,-3,.1,24,0,.1,22,-4,.08],
[0,32,.22,0,32,.35,0,32,.45,0,32,.5,16,16,.85,10,14,.9,0,30,1.75,-12,20,.8,-22,10,.4,-24,0,.12,24,-9,.1,-5,25,.1,24,-9,.07,24,-5,.05,24,-4,.05],
[0,30,.2,0,32,.3,0,32,.4,0,32,.5,18,10,.9,8,22,.95,0,28,1.6,-10,22,1.1,-4,24,.85,-10,-22,.35,22,-12,.25,0,-24,.1,0,0,0,22,-10,.07,22,-4,.06,22,-2,.06],
[0,26,.15,0,32,.25,0,32,.3,12,26,.55,22,0,.85,16,18,1.15,12,20,1.65,18,14,1.25,20,6,1.05,22,0,.9,22,0,.75,22,-6,.35,-4,-26,.15,0,0,0,22,-2,.06,22,0,.06,22,0,.05],
[-6,22,.12,0,32,.2,6,24,.3,20,10,.6,22,0,.75,18,14,1.4,16,14,1.55,20,10,1.3,24,2,1.15,24,0,1.1,24,0,.85,24,0,.45,22,-4,.2,0,0,0,24,0,.06,24,0,.08,22,0,.06],
[-10,24,.15,-3,32,.2,18,12,.3,22,0,.65,24,0,.85,18,16,1.4,16,16,1.55,20,10,1.35,22,4,1.2,22,2,1.2,24,0,.95,24,0,.55,24,0,.35,22,0,.25,24,0,.12,24,0,.08,24,0,.06],
[-14,15,.15,18,12,.2,22,0,.35,22,0,.45,22,6,.95,14,16,1.35,16,16,1.4,20,10,1.25,24,4,1.15,24,2,1.1,24,0,.95,24,0,.7,24,0,.4,24,0,.3,24,0,.12,24,0,.08,24,0,.06],
[-20,6,.12,24,0,.15,24,0,.3,24,0,.45,20,10,.85,16,16,1.1,18,16,1.2,22,10,1.1,24,2,1.05,24,1,1,24,0,.9,24,0,.8,24,0,.55,24,0,.35,24,0,.1,24,0,.08,24,0,.05],
[0,0,0,24,0,.1,24,3,.25,22,8,.6,18,14,.85,16,16,1,18,14,1,22,8,.9,22,4,.85,24,3,.85,24,1,.8,24,0,.75,24,0,.55,24,0,.35,24,0,.18,24,0,.1,24,0,.06],
[-2,28,.1,24,6,.12,22,10,.35,16,14,.55,16,14,.75,16,18,.85,18,14,.8,20,10,.75,24,6,.7,22,4,.7,24,1,.65,24,0,.6,24,0,.45,24,0,.3,22,0,.12,22,0,.1,24,0,.06],
[-3,30,.12,14,18,.2,16,16,.45,16,16,.55,16,16,.65,16,16,.7,18,14,.7,22,8,.65,22,6,.6,22,4,.55,24,2,.55,24,0,.5,24,0,.3,24,0,.25,24,0,.12,22,0,.08,22,0,.05],
[-3,30,.12,3,28,.2,14,20,.42,16,18,.55,16,16,.62,16,14,.62,18,14,.6,22,8,.58,22,6,.5,24,4,.45,24,1,.4,24,0,.35,24,0,.28,24,0,.22,24,0,.12,22,0,.08,22,0,.04],
[-6,26,.1,0,30,.2,12,22,.38,14,18,.48,14,18,.55,18,14,.55,18,14,.52,22,8,.5,22,6,.45,24,4,.38,24,1,.32,24,0,.3,24,0,.22,24,0,.15,24,0,.08,24,0,.05],
[-8,24,.1,0,30,.2,10,22,.35,12,22,.42,14,18,.5,16,14,.5,18,14,.5,20,10,.45,22,6,.4,24,3,.32,24,1,.28,24,0,.25,24,0,.18,24,0,.12,24,0,.08,24,0,.05],
[-12,20,.1,0,28,.22,10,22,.3,12,22,.38,14,18,.42,16,14,.42,18,14,.42,22,8,.38,22,6,.34,24,3,.3,24,1,.22,24,0,.18,24,0,.15,24,0,.1,24,0,.08,24,0,.05],
[-14,14,.08,-2,24,.2,4,26,.25,8,24,.32,12,20,.35,14,18,.38,18,14,.36,22,8,.32,22,6,.28,24,3,.22,24,1,.18,24,0,.15,24,0,.12,24,0,.08,24,0,.05],
[-20,3,.05,-14,18,.12,3,26,.2,4,24,.28,8,24,.3,14,18,.32,18,14,.3,22,8,.26,24,3,.22,24,2,.18,24,0,.12,24,0,.1,24,0,.08,24,0,.06,24,0,.05],
[-24,0,.06,-24,-4,.08,3,26,.15,2,26,.22,4,24,.25,10,20,.26,14,16,.22,18,12,.2,20,10,.15,22,6,.12,22,3,.08,22,1,.06,22,0,.05,22,0,.04],
[-20,8,.1,-24,0,.1,-3,24,.1,0,26,.15,0,26,.18,8,22,.15,8,24,.12,16,18,.12,16,14,.1,20,8,.08,20,6,.05,20,3,.05,20,2,.05],
[-20,14,.12,-20,-2,.12,-14,20,.12,-4,24,.1,0,26,.15,6,24,.12,6,24,.08,14,18,.1,14,14,.06,20,10,.05,18,6,.04,18,4,.03]];
const epDiff=[
[0,0,0,0,0,0,18,8,.05,20,10,.05,18,8,.06,16,14,.08,-8,24,.1,-12,20,.08,-6,24,.06,0,24,.08,8,22,.06],
[0,0,0,0,0,0,18,10,.05,18,12,.05,18,12,.06,14,14,.08,-8,24,.1,-14,16,.1,-6,26,.05,6,24,.05,20,8,.05],
[0,0,0,0,28,.06,14,14,.06,10,18,.06,14,16,.07,12,18,.1,-14,18,.12,-8,18,.12,-6,22,.08,12,16,.05,22,-2,.03],
[0,0,0,0,32,.06,6,22,.06,4,24,.06,8,22,.07,20,0,.08,-8,22,.12,0,28,.1,0,26,.06,20,-4,.04,20,-14,.04],
[0,30,.06,0,32,.06,2,28,.06,2,30,.06,6,22,.06,-20,6,.12,0,26,.15,14,16,.2,14,14,.12,20,-8,.04,20,-10,.05,-10,-22,.05,-22,0,.03],
[0,30,.08,0,32,.08,0,30,.08,0,30,.08,2,30,.06,-18,8,.1,22,4,.35,20,8,.35,16,10,.22,-24,0,.05,-24,0,.04,18,8,.04,-24,0,.03,-22,2,.03],
[0,32,.08,0,32,.1,0,32,.1,0,32,.1,-3,28,.05,-14,20,.15,22,4,.75,20,10,.68,14,12,.27,12,18,.12,12,16,.04,-22,1,.02,-22,-1,.02,-20,-2,.03,-20,-3,.03],
[0,32,.1,0,32,.12,0,32,.13,0,32,.13,12,18,.12,-20,3,.55,22,0,.82,18,12,.6,12,16,.3,6,26,.15,0,26,.07,-22,-4,.03,-22,0,.03,-22,-3,.03,-22,-5,.03],
[0,34,.1,0,32,.13,0,32,.15,0,32,.15,18,14,.27,22,0,.72,22,-2,.4,12,18,.28,12,18,.3,6,26,.12,-6,22,.07,-16,14,.05,-22,-2,.03,-20,-3,.03,-22,-3,.03,-22,0,.03],
[0,34,.1,0,34,.15,0,32,.15,0,34,.2,18,14,.32,20,-2,.45,24,0,.2,0,26,.2,0,26,.12,0,26,.08,-14,16,.06,-12,18,.05,-20,-6,.03,-22,-3,.03,-20,-2,.03,-22,-1,.03],
[0,32,.08,0,32,.15,0,32,.2,6,28,.22,18,8,.28,-18,12,.2,12,18,.15,0,26,.15,0,26,.12,8,20,.08,-14,20,.05,-14,18,.04,-18,10,.04,-22,-4,.03,-22,0,.03,-22,0,.03],
[0,30,.06,0,32,.1,4,26,.2,14,18,.22,22,0,.2,-14,18,.17,12,18,.15,6,22,.12,20,6,.2,18,8,.12,2,24,.06,-12,16,.05,-18,14,.04,0,0,0,-22,0,.03,-22,0,.03],
[2,30,.05,10,24,.1,14,16,.1,20,10,.12,-22,8,.15,-18,14,.12,14,16,.13,20,8,.12,22,2,.2,22,4,.12,16,8,.06,-14,16,.04],
[22,0,.03,22,0,.04,22,0,.04,22,0,.04,-18,14,.1,-20,6,.12,16,16,.15,18,12,.15,22,1,.2,24,1,.18,22,2,.12,0,0,0,0,0,0,22,0,.02],
[-16,20,.05,-16,12,.04,-18,12,.04,-22,4,.05,-16,14,.07,22,0,.13,16,16,.13,20,12,.13,22,2,.15,22,0,.12,22,0,.1,22,-6,.05,0,0,0,22,0,.03,22,0,.02],
[-2,30,.05,-16,16,.04,22,0,.02,22,0,.03,-18,8,.05,18,14,.1,18,16,.1,18,14,.1,22,2,.1,22,0,.1,22,0,.07,22,-3,.05,0,0,0,22,0,.02,24,0,.03,24,0,.02],
[0,26,.05,-16,18,.05,-2,30,.04,20,14,.05,22,-2,.04,16,16,.07,16,16,.07,14,16,.07,20,8,.07,24,4,.07,24,0,.06,24,0,.05,22,-8,.04,22,-4,.03,24,0,.03,24,0,.02],
[0,0,0,-16,14,.04,0,30,.04,8,24,.05,20,0,.03,6,26,.05,10,22,.05,10,22,.05,18,14,.06,22,2,.06,24,0,.05,24,0,.04,22,-2,.03,22,-3,.03,24,0,.03,24,0,.02],
[0,0,0,0,0,0,0,28,.04,-18,14,.04,0,0,0,4,26,.05,6,24,.05,0,26,.05,16,16,.06,18,8,.06,22,2,.05,24,0,.04,24,-1,.03,22,-2,.03],
[0,0,0,0,0,0,0,0,0,-22,0,.04,22,3,.04,-2,26,.04,2,26,.05,0,28,.05,8,20,.05,16,16,.04,20,2,.04,24,0,.03,24,0,.03],
[0,0,0,0,0,0,-6,22,.04,20,6,.04,18,10,.04,-8,18,.05,-8,18,.05,-2,26,.05,0,24,.05,6,22,.04,18,10,.02],
[0,0,0,0,0,0,-6,24,.04,18,10,.04,16,12,.04,-18,12,.05,-18,10,.05,-6,24,.05,-2,22,.05,0,22,.05],
[0,0,0,0,0,0,-12,18,.04,10,20,.04,12,20,.04,-22,4,.05,-22,3,.04,-12,20,.04,-12,20,.05],
[0,0,0,0,0,0,-14,10,.04,-4,22,.04,10,20,.04,22,0,.03,22,0,.03,-12,18,.04,-12,14,.04],
[16,8,.04,20,8,.04,-18,10,.03,-12,18,.04,-2,28,.04,0,0,0,20,4,.02],
[18,10,.04,20,8,.04,-20,3,.03,-16,14,.04,-4,24,.04],
[18,12,.04,20,10,.04,-22,0,.03,-18,12,.04,-12,18,.04,-12,18,.03],
[18,14,.04,18,10,.04,-22,0,.03,-20,8,.04,-14,16,.04,-14,16,.03]];

// ---------- drawing helpers ----------
const FAMILY='"DejaVu Serif"';
Chart.defaults.font.family=FAMILY;
Chart.defaults.color='#000';
Chart.defaults.animation=false;

const textPlugin={id:'contourText',afterDatasetsDraw(chart,a,o){
  if(!o.items)return;const c=chart.ctx,xs=chart.scales.x,ys=chart.scales.y;
  c.save();c.font=`${o.size}px ${FAMILY}`;c.fillStyle=o.color||'#000';c.textAlign='center';c.textBaseline='middle';
  for(const [lat,km,t,r] of o.items){c.save();c.translate(xs.getPixelForValue(lat),ys.getPixelForValue(km));c.rotate((r||0)*Math.PI/180);c.fillText(t,0,0);c.restore();}
  c.restore();}};
const sideLabel={id:'sideLabel',afterDraw(chart,a,o){
  if(!o.text)return;const c=chart.ctx;c.save();c.translate(o.x,o.y);c.rotate(-Math.PI/2);
  c.font=`${o.size}px ${FAMILY}`;c.fillStyle='#000';c.textAlign='center';c.textBaseline='middle';c.fillText(o.text,0,0);c.restore();}};
Chart.register(textPlugin,sideLabel);

function area(poly,color,opt={}){return Object.assign({data:poly.map(([x,y])=>({x,y})),showLine:true,fill:'shape',backgroundColor:color,borderColor:color,borderWidth:0.5,pointRadius:0,tension:0.25},opt);}
function line(poly,color,width,dash,tension=0.15){return {data:poly.map(([x,y])=>({x,y})),showLine:true,fill:false,borderColor:color,backgroundColor:'transparent',borderWidth:width,borderDash:dash||[],pointRadius:0,tension};}
function ordered(list){list.forEach((d,i)=>{d.order=list.length-i;});return list;}
function makeCanvas(l,t,w,h){const c=document.createElement('canvas');c.width=w;c.height=h;c.style.left=l+'px';c.style.top=t+'px';document.body.appendChild(c);return c;}
function rainbow(t){t=Math.min(1,Math.max(0,t));const r=Math.min(1,Math.abs(2*t-0.5)),g=Math.sin(Math.PI*t),b=Math.cos(Math.PI*t/2);return `rgb(${Math.round(r*255)},${Math.round(g*255)},${Math.round(b*255)})`;}
function arrowStyle(u,v,a,vmax){
  const k=1.12,L=Math.hypot(u,v)*k,s=Math.ceil(L+20),c=document.createElement('canvas');c.width=s;c.height=s;const g=c.getContext('2d');g.translate(s/2,s/2);
  if(L===0){g.fillStyle='#000';g.beginPath();g.arc(0,0,2,0,7);g.fill();return c;}
  g.rotate(Math.atan2(-v,u));const hl=10,sw=1.9,hw=5.6,e=L/2;
  g.beginPath();g.moveTo(-e,-sw);g.lineTo(e-hl,-sw);g.lineTo(e-hl,-hw);g.lineTo(e,0);g.lineTo(e-hl,hw);g.lineTo(e-hl,sw);g.lineTo(-e,sw);g.closePath();
  g.fillStyle=rainbow(a/vmax);g.fill();g.lineWidth=1.6;g.strokeStyle='#000';g.stroke();return c;}
function quiver(rows,vmax){
  const data=[];
  gridKm.forEach((km,r)=>{gridLat.forEach((lat,i)=>{const row=rows[r];const u=row[i*3]||0,v=row[i*3+1]||0,a=row[i*3+2]||0;data.push({x:lat,y:km,u,v,a});});});
  return {data,showLine:false,pointRadius:1,pointStyle:c=>c.raw?arrowStyle(c.raw.u,c.raw.v,c.raw.a,vmax):'circle'};
}
function noOverhang(s){s.paddingTop=0;s.paddingBottom=0;s.paddingLeft=0;s.paddingRight=0;}
function panel(o){
  const big=o.big,[L,R,T,B]=o.rect;
  const tickSize=big?34:19,titleSize=big?31:16.5,xTitleSize=big?33:17.5,len=big?10:-5,pad=big?3:8;
  const cl=Math.floor(o.titleX-titleSize/2-1),ct=Math.floor(T-24),cb=Math.ceil(o.titleY+xTitleSize/2+1),cr=Math.ceil(R+24);
  const W=cr-cl,H=cb-ct,lw=L-cl,rw=cr-R,th=T-ct,bh=cb-B;
  const lineCol=big?'#000':'#111';
  const common={grid:{color:big?'#000':'rgba(0,0,0,0)',lineWidth:big?1.3:0,z:1,tickLength:len,tickColor:'#000',tickWidth:big?1.3:1.2,tickBorderDash:[],drawOnChartArea:big},border:{display:true,color:lineCol,width:big?1.6:1.6,dash:big?[4,4]:[],z:2}};
  const side={grid:Object.assign({},common.grid,{drawOnChartArea:false}),border:{display:true,color:lineCol,width:1.6,z:2},ticks:{display:false}};
  const xfmt=v=>(o.xLabels.includes(v)?(big?String(v):String(v).replace('-','\u2212')):'');
  const yfmt=v=>(o.yLabels.includes(v)?String(v):'');
  const set=t=>s=>{s.ticks=t.map(value=>({value}));};
  new Chart(makeCanvas(cl,ct,W,H),{type:'scatter',data:{datasets:ordered(o.datasets)},options:{
    responsive:false,animation:false,events:[],layout:{padding:0},
    plugins:{legend:{display:false},tooltip:{enabled:false},contourText:{items:o.text,size:o.textSize||(big?27:15),color:o.textColor}},
    scales:{
      x:Object.assign({},common,{type:'linear',position:'bottom',min:o.xlim[0],max:o.xlim[1],afterBuildTicks:set(o.xTicks),afterFit(s){s.height=bh;noOverhang(s);},
        ticks:{font:{size:tickSize},color:'#000',autoSkip:false,maxRotation:0,minRotation:0,padding:pad+(big?0:5),callback:xfmt},
        title:{display:true,text:'Latitude ( ° )',font:{size:xTitleSize,lineHeight:1},padding:0,color:'#000'}}),
      y:Object.assign({},common,{type:'linear',position:'left',min:o.ylim[0],max:o.ylim[1],afterBuildTicks:set(o.yTicks),afterFit(s){s.width=lw;noOverhang(s);},
        ticks:{font:{size:tickSize},color:'#000',autoSkip:false,maxRotation:0,minRotation:0,padding:pad+(big?0:5),callback:yfmt},
        title:{display:true,text:'Log-Pressure Height (km)',font:{size:titleSize,lineHeight:1},padding:0,color:'#000'}}),
      x2:Object.assign({},side,{type:'linear',position:'top',axis:'x',min:o.xlim[0],max:o.xlim[1],afterBuildTicks:set(o.xTicks),afterFit(s){s.height=th;noOverhang(s);}}),
      y2:Object.assign({},side,{type:'linear',position:'right',axis:'y',min:o.ylim[0],max:o.ylim[1],afterBuildTicks:set(o.yTicks),afterFit(s){s.width=rw;noOverhang(s);}})
    }}});
}
function colorbar(o){
  // o.stops: band edges, o.colors: band colours; o.tip/o.tail: pixel positions of the pointed ends
  const side=115,[x0,x1]=o.xr,big=o.big;
  const fs=big?34:19,unitSize=o.unitSize||33,unitH=o.unit?unitSize+8:0;
  const ct=Math.round(o.tip-unitH),tail=o.tail||o.bottom,cb=Math.ceil(tail+26),cl=Math.round(x0-side),cr=Math.round(x1+side);
  const lo=o.stops[0],hi=o.stops[o.stops.length-1],ppu=(o.bottom-o.bodyTop)/(hi-lo);
  const ymax=hi+(o.bodyTop-o.tip)/ppu,ymin=o.tail?lo-(o.tail-o.bottom)/ppu:lo;
  const ds=[];
  o.stops.slice(0,-1).forEach((s,i)=>{const e=o.stops[i+1];ds.push({data:[{x:0,y:s},{x:1,y:s},{x:1,y:e},{x:0,y:e}],showLine:true,fill:'shape',backgroundColor:o.colors[i],borderColor:o.colors[i],borderWidth:0.5,pointRadius:0,tension:0});});
  if(o.over){ds.push(area([[0,hi],[1,hi],[0.5,ymax]],o.over,{tension:0}));}
  if(o.under){ds.push(area([[0,lo],[1,lo],[0.5,ymin]],o.under,{tension:0}));}
  const out=o.over&&o.under?[[0,lo],[0.5,ymin],[1,lo],[1,hi],[0.5,ymax],[0,hi],[0,lo]]:(o.over?[[0,lo],[1,lo],[1,hi],[0.5,ymax],[0,hi],[0,lo]]:[[0,lo],[1,lo],[1,hi],[0,hi],[0,lo]]);
  ds.push(line(out,'#000',1.6,[],0));
  const c=makeCanvas(cl,ct,cr-cl,cb-ct);
  new Chart(c,{type:'scatter',data:{datasets:ordered(ds)},options:{
    responsive:false,animation:false,events:[],layout:{padding:{bottom:cb-tail}},
    plugins:{legend:{display:false},tooltip:{enabled:false},
      title:{display:!!o.unit,text:o.unit,font:{size:unitSize,lineHeight:1,weight:'normal'},color:'#000',padding:{top:0,bottom:8}},
      sideLabel:{text:o.label,x:o.labelX-cl,y:o.labelY-ct,size:16.5}},
    scales:{
      x:{type:'linear',display:false,min:0,max:1,offset:false},
      y:{type:'linear',position:'right',min:ymin,max:ymax,afterBuildTicks:s=>{s.ticks=o.ticks.map(value=>({value}));},afterFit(s){s.width=side;noOverhang(s);},
        grid:{drawOnChartArea:false,tickLength:big?-8:-5,tickColor:'#000',tickWidth:1.3},border:{display:false},
        ticks:{font:{size:fs},color:'#000',padding:big?(8+8):(5+6),autoSkip:false,maxRotation:0,minRotation:0,callback:o.fmt}},
      y3:{type:'linear',axis:'y',position:'left',min:0,max:1,afterFit(s){s.width=side;noOverhang(s);},grid:{display:false},border:{display:false},ticks:{display:false}}
    }}});
}
function jetBands(list,palette){const out=[];list.forEach((polys,i)=>polys.forEach(p=>out.push(area(p,palette[i]))));return out;}
function blackLines(sol,dash,thick){return [...sol.map(p=>line(p,'#000',1.5)),...dash.map(p=>line(p,'#000',1.5,[7,5])),...(thick||[]).map(p=>line(p,'#000',4,[],0))];}
function rampColors(n){const a=[];for(let i=0;i<n;i++)a.push(rainbow((i+0.5)/n));return a;}
function rampStops(n,vmax){const a=[];for(let i=0;i<=n;i++)a.push(i/n*vmax);return a;}

// ---------- panels ----------
const bigOpts={big:true,xlim:[-80,0],ylim:[10,120],xTicks:bigXTicks,xLabels:bigXLabels,yTicks:bigYTicks,yLabels:bigYLabels};
const midOpts={big:false,xTicks:midXTicks,xLabels:midXTicks,yTicks:midYTicks,yLabels:midYTicks};

panel({...bigOpts,rect:[185,743,73.5,606],titleX:76,titleY:684,text:p1Text,
  datasets:[...jetBands([p1L5,p1L10,p1L15,p1L20,p1L25,p1L30,p1L35,p1L40,p1L45],jet9),area(p1Spot,jet9[1]),...blackLines(p1Solid,p1Dashed)]});
colorbar({big:true,xr:[777,803],tip:73.5,bodyTop:98.7,bottom:606,stops:levels1,colors:jet9,over:overRed,ticks:ticks1,fmt:v=>String(v),unit:'m s\u207B\u00B9',unitSize:33});

panel({...bigOpts,rect:[2068,2627,73.5,606],titleX:1958,titleY:684,text:p3Text,
  datasets:[...jetBands([p3L05,p3L10,p3L15,p3L20,p3L25,p3L30,p3L35,p3L40,p3L45,p3L50],jet10),area(p3Hole15,jet10[2]),area(p3Hole10,jet10[1]),...blackLines(p3Solid,p3Dashed)]});
colorbar({big:true,xr:[2660,2686],tip:73.5,bodyTop:98.7,bottom:606,stops:levels3,colors:jet10,over:overRed,ticks:ticks3,fmt:v=>v.toFixed(1),unit:'m\u00B2 s\u207B\u00B2',unitSize:34});

panel({...bigOpts,rect:[190.6,749,783.8,1322.5],titleX:83,titleY:1398,text:p4Text,
  datasets:[...jetBands([p4L2,p4L4,p4L6,p4L8,p4L10,p4L12,p4L14,p4L16],jet9),...blackLines(p4Solid,p4Dashed)]});
colorbar({big:true,xr:[782,808],tip:783.8,bodyTop:810,bottom:1322.5,stops:levels4,colors:jet9,over:overRed,ticks:ticks4,fmt:v=>String(v),unit:'K',unitSize:34});

panel({...bigOpts,rect:[2068,2627,789.6,1322.5],titleX:1958,titleY:1398,text:p6Text,textSize:32,
  datasets:[...jetBands([p6L10,p6L20,p6L30,p6L40,p6L50,p6L60,p6L70],jet7),area(p6Hole20,jet7[1]),area(p6Hole30,jet7[2]),area(p6Core,'#a00000'),...blackLines(p6Solid,p6Dashed,p6Thick)]});
colorbar({big:true,xr:[2660,2686],tip:789.6,bodyTop:815,bottom:1322.5,stops:levels6,colors:jet7,over:overRed,ticks:ticks6,fmt:v=>String(v),unit:'ms\u207B\u00B9 d\u207B\u00B9',unitSize:29});

const edge={borderColor:'#1a1a1a',borderWidth:1.2};
const signed=v=>String(v).replace('-','\u2212');

panel({...midOpts,rect:[1044,1556.5,53.8,636],xlim:[-85.2,0],ylim:[18.25,100.74],titleX:987,titleY:675,text:p2Text,textColor:'#333',
  datasets:[area(p2Base,greys[4],{tension:0}),...p2Pos0.map(p=>area(p,greys[5],edge)),...p2Pos10.map(p=>area(p,greys[6],edge)),
    ...p2Neg10.map(p=>area(p,greys[3],edge)),...p2Neg20.map(p=>area(p,greys[2])),...p2Neg30.map(p=>area(p,greys[1])),...p2Neg40.map(p=>area(p,greys[0])),
    ...p2Light.map(p=>line(p,'#c4c4c4',1.2)),...p2Dash.map(p=>line(p,'#555',1.2,[9,6])),quiver(epTop,1.85)]});
colorbar({big:false,xr:[1589,1618],tip:54,bodyTop:54,bottom:636,stops:rampStops(64,1.85),colors:rampColors(64),ticks:ampTicks2,fmt:v=>v.toFixed(1),label:'EP flux amplitude (m\u00B2 s\u207B\u00B2)',labelX:1671,labelY:345});
colorbar({big:false,xr:[1725,1752],tip:54,bodyTop:80,bottom:609,tail:636,stops:levelsDiv2,colors:greys,over:'#000',under:'#fff',ticks:ticksDiv2,fmt:signed,label:'EP flux divergence (ms\u207B\u00B2)',labelX:1809,labelY:345});

panel({...midOpts,rect:[1037.6,1550.5,764,1345.8],xlim:[-85.2,0],ylim:[18.25,100.64],titleX:979.5,titleY:1385.5,text:p5Text,textColor:'#333',
  datasets:[area(p5Base,greys[4],{tension:0}),...p5Pos0.map(p=>area(p,greys[5],edge)),area(p5Lens,greys[4],edge),
    ...p5Pos2.map(p=>area(p,greys[6],edge)),...p5Pos4.map(p=>area(p,greys[7],edge)),...p5Pos6.map(p=>area(p,greys[8],edge)),...p5Pos8.map(p=>area(p,greys[9])),area(p5Over,'#000'),
    ...p5Neg2.map(p=>area(p,greys[3])),...p5Neg4.map(p=>area(p,greys[2])),...p5Neg6.map(p=>area(p,greys[1])),...p5Neg8.map(p=>area(p,greys[0])),
    ...p5Light.map(p=>line(p,'#c4c4c4',1.2)),...p5Dash.map(p=>line(p,'#555',1.2,[9,6])),quiver(epDiff,0.847)]});
colorbar({big:false,xr:[1583.4,1612],tip:764,bodyTop:764,bottom:1345.8,stops:rampStops(64,0.847),colors:rampColors(64),ticks:ampTicks5,fmt:v=>v.toFixed(1),label:'EP flux amplitude difference (m\u00B2 s\u207B\u00B2)',labelX:1665,labelY:1059});
colorbar({big:false,xr:[1719,1746],tip:764,bodyTop:789.6,bottom:1319.4,tail:1345.8,stops:levelsDiv5,colors:greys,over:'#000',under:'#fff',ticks:ticksDiv5,fmt:signed,label:'EP flux divergence (ms\u207B\u00B2)',labelX:1795,labelY:1059});
</script>
</body></html>
